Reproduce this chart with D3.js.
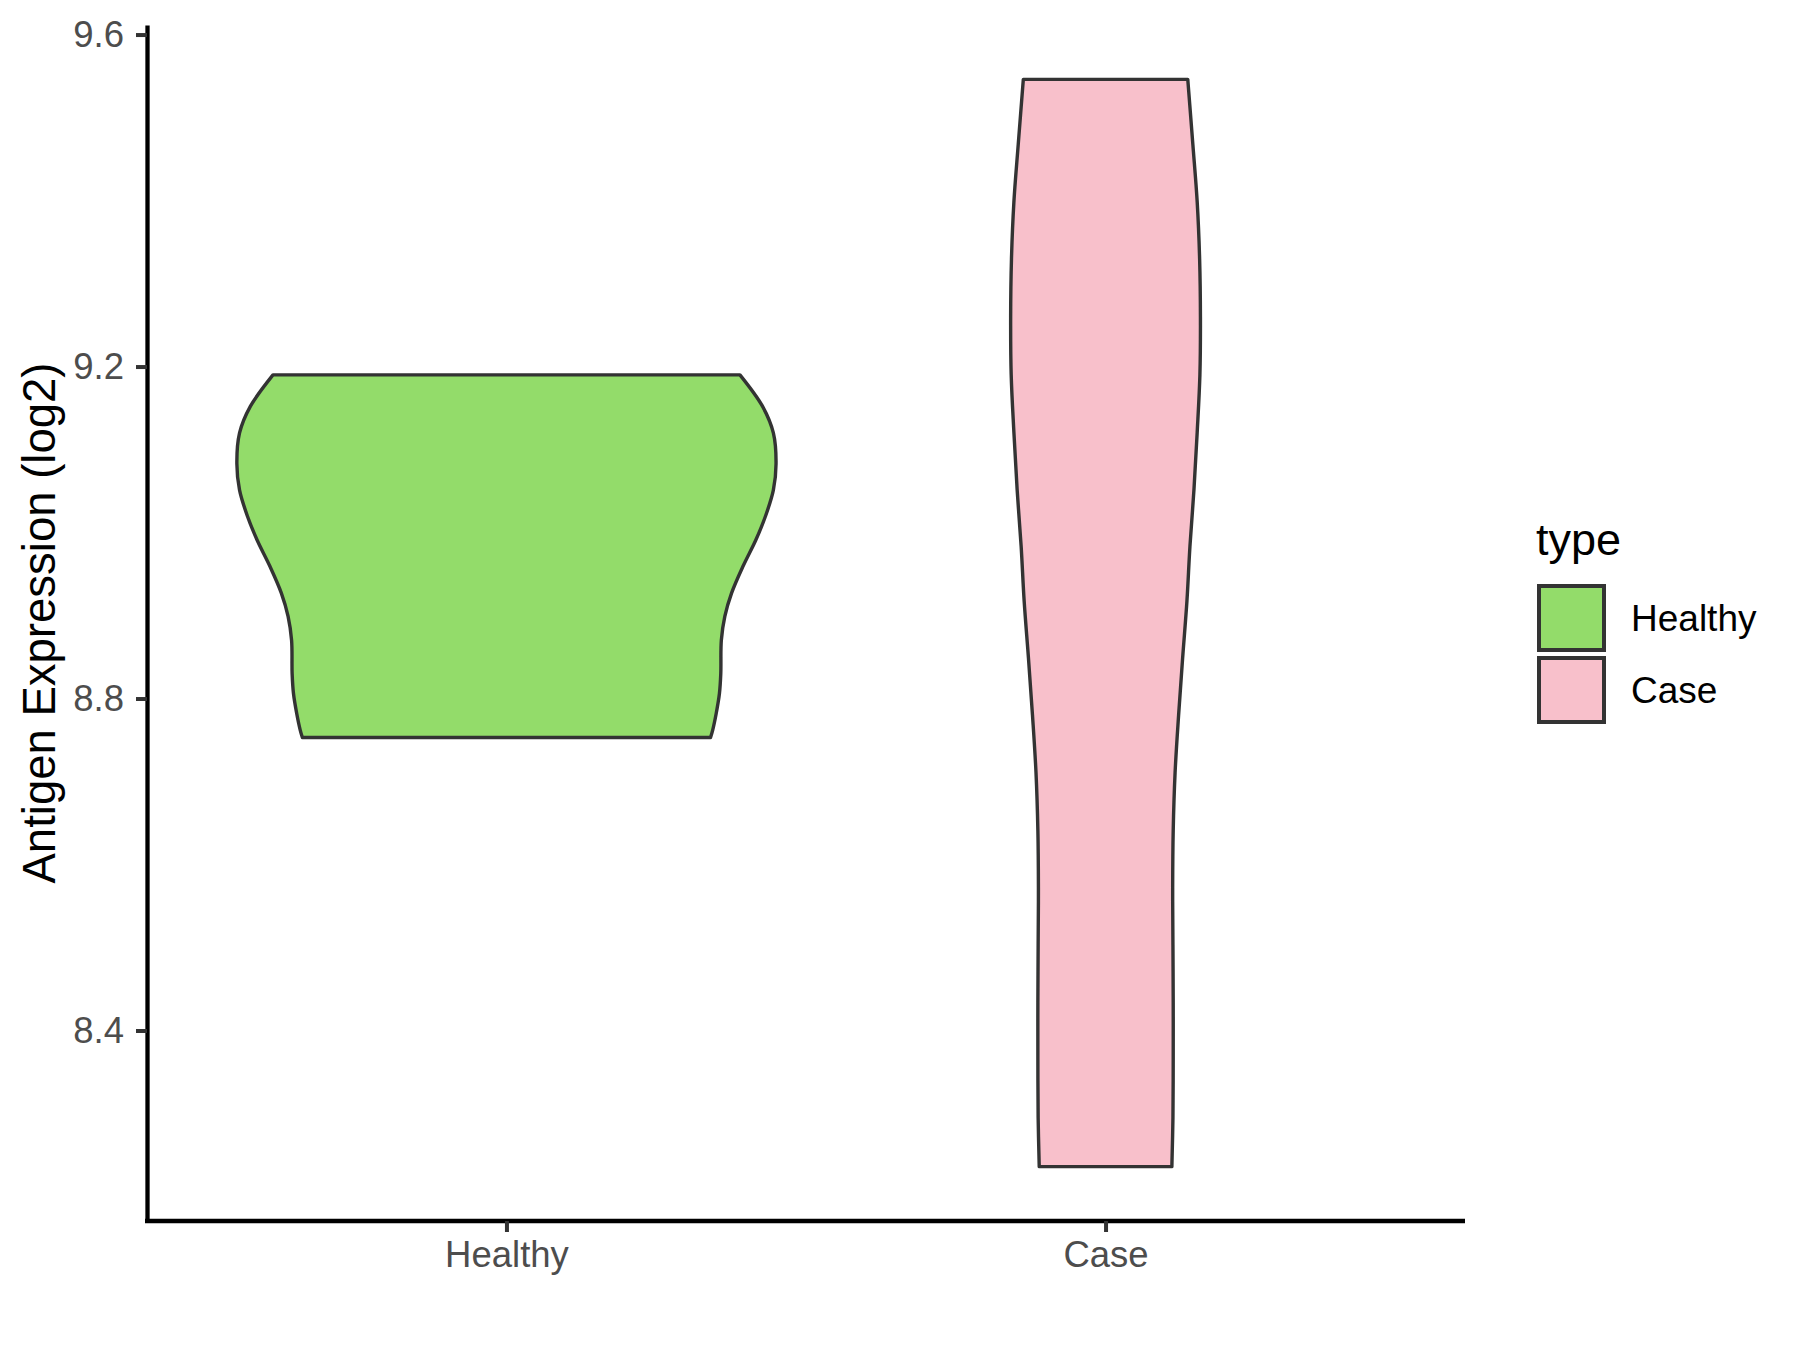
<!DOCTYPE html>
<html>
<head>
<meta charset="utf-8">
<script src="https://cdn.jsdelivr.net/npm/d3@7"></script>
<style>
  html, body { margin: 0; padding: 0; background: #ffffff; }
  svg { display: block; font-family: "Liberation Sans", Arial, sans-serif; }
</style>
</head>
<body>
<svg id="chart" width="1800" height="1350"></svg>
<script>
// ---- data ----
const categories = ["Healthy", "Case"];
const fillColors = ["#93DC6A", "#F8C0CB"];
const yTickValues = [8.4, 8.8, 9.2, 9.6];
const yTitle = "Antigen Expression (log2)";
const legendTitle = "type";

// violin outlines: value on the y axis, relative half-width (density)
const healthyValues = [9.190, 9.152, 9.120, 9.083, 9.051, 9.019, 8.991, 8.959, 8.927, 8.899, 8.870, 8.830, 8.806, 8.782, 8.762, 8.753];
const healthyWidths = [0.866, 0.950, 0.990, 1.000, 0.990, 0.960, 0.925, 0.877, 0.835, 0.810, 0.797, 0.795, 0.790, 0.778, 0.765, 0.757];
const caseValues = [9.546, 9.467, 9.398, 9.329, 9.259, 9.190, 9.121, 9.052, 8.983, 8.918, 8.849, 8.780, 8.711, 8.641, 8.572, 8.503, 8.434, 8.365, 8.295, 8.236];
const caseWidths = [0.305, 0.324, 0.340, 0.349, 0.352, 0.350, 0.340, 0.328, 0.313, 0.302, 0.286, 0.271, 0.258, 0.251, 0.249, 0.250, 0.251, 0.251, 0.250, 0.246];

// ---- layout ----
const svg = d3.select("#chart");
const panel = { left: 147, right: 1465, top: 25, bottom: 1221 };

const series = [
  { name: categories[0], values: healthyValues, widths: healthyWidths, fill: fillColors[0] },
  { name: categories[1], values: caseValues, widths: caseWidths, fill: fillColors[1] }
];

const allVals = healthyValues.concat(caseValues);
const [vmin, vmax] = d3.extent(allVals);
const pad = (vmax - vmin) * 0.05;
const y = d3.scaleLinear().domain([vmin - pad, vmax + pad]).range([panel.bottom, panel.top]);
const x = d3.scalePoint().domain(categories).range([panel.left, panel.right]).padding(0.6);
const w = d3.scaleLinear().domain([0, 1]).range([0, 0.45 * x.step()]);

// ---- violins ----
series.forEach(s => {
  const pts = s.values.map((v, i) => ({ v: v, hw: s.widths[i] }));
  const cx = x(s.name);
  const area = d3.area()
    .y(d => y(d.v))
    .x0(d => cx - w(d.hw))
    .x1(d => cx + w(d.hw))
    .curve(d3.curveCatmullRom.alpha(0.5));
  svg.append("path")
    .datum(pts)
    .attr("d", area)
    .attr("fill", s.fill)
    .attr("stroke", "#333333")
    .attr("stroke-width", 3.4)
    .attr("stroke-linejoin", "round");
});

// ---- axes ----
const yAxis = d3.axisLeft(y).tickValues(yTickValues).tickFormat(d3.format(".1f"))
  .tickSize(11).tickSizeOuter(0).tickPadding(12);
const gy = svg.append("g").attr("transform", `translate(${panel.left},0)`).call(yAxis);
gy.select(".domain").attr("stroke", "#000000").attr("stroke-width", 4.3);
gy.selectAll(".tick line").attr("stroke", "#333333").attr("stroke-width", 4);
gy.selectAll(".tick text").attr("fill", "#4D4D4D").attr("font-size", 36.5)
  .attr("font-family", "Liberation Sans, Arial, sans-serif");

const xAxis = d3.axisBottom(x).tickSize(11).tickSizeOuter(0).tickPadding(9);
const gx = svg.append("g").attr("transform", `translate(0,${panel.bottom})`).call(xAxis);
gx.select(".domain").attr("stroke", "#000000").attr("stroke-width", 4.3)
  .attr("d", `M${panel.left - 2},0H${panel.right}`);
gx.selectAll(".tick line").attr("stroke", "#333333").attr("stroke-width", 4);
gx.selectAll(".tick text").attr("fill", "#4D4D4D").attr("font-size", 36.5)
  .attr("font-family", "Liberation Sans, Arial, sans-serif");

// y title
svg.append("text")
  .attr("transform", `translate(55,${(panel.top + panel.bottom) / 2}) rotate(-90)`)
  .attr("text-anchor", "middle")
  .attr("font-size", 45.5)
  .attr("fill", "#000000")
  .text(yTitle);

// ---- legend ----
const lg = svg.append("g");
lg.append("text").attr("x", 1536).attr("y", 555).attr("font-size", 45).attr("fill", "#000").text(legendTitle);
series.forEach((s, i) => {
  const top = 586 + i * 72;
  lg.append("rect").attr("x", 1539).attr("y", top).attr("width", 65).attr("height", 64)
    .attr("fill", s.fill).attr("stroke", "#333333").attr("stroke-width", 4);
  lg.append("text").attr("x", 1631).attr("y", top + 32).attr("dy", "0.35em")
    .attr("font-size", 37).attr("fill", "#000").text(s.name);
});
</script>
</body>
</html>
